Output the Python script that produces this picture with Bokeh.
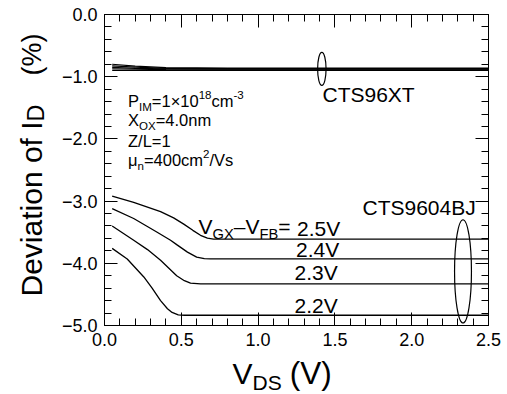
import math
from bokeh.plotting import figure
from bokeh.models import Range1d, LinearAxis, SingleIntervalTicker, Label
from bokeh.embed import file_html
from bokeh.resources import INLINE

# ---------------- data ----------------
x_ticks = [0.0, 0.5, 1.0, 1.5, 2.0, 2.5]
x_tick_labels = ["0.0", "0.5", "1.0", "1.5", "2.0", "2.5"]
y_ticks = [0, -1, -2, -3, -4, -5]
y_tick_labels = ["0.0", "\u22121.0", "\u22122.0", "\u22123.0", "\u22124.0", "\u22125.0"]

# CTS96XT (nearly flat bundle of curves)
xt = [0.05, 0.2, 0.4, 0.8, 1.5, 2.5]
xt_1 = [-0.80, -0.83, -0.855, -0.86, -0.86, -0.86]
xt_2 = [-0.825, -0.845, -0.865, -0.87, -0.87, -0.87]
xt_3 = [-0.85, -0.865, -0.875, -0.88, -0.88, -0.88]
xt_4 = [-0.875, -0.88, -0.885, -0.89, -0.89, -0.89]
xt_5 = [-0.90, -0.90, -0.90, -0.90, -0.90, -0.90]

# CTS9604BJ curves, V_GX - V_FB = 2.5, 2.4, 2.3, 2.2 V
bj25_x = [0.05, 0.19, 0.365, 0.45, 0.516, 0.575, 0.625, 0.67, 0.71, 2.5]
bj25_y = [-2.92, -3.02, -3.17, -3.27, -3.37, -3.47, -3.55, -3.595, -3.61, -3.61]
bj24_x = [0.05, 0.19, 0.343, 0.43, 0.47, 0.54, 0.60, 0.65, 0.69, 2.5]
bj24_y = [-3.12, -3.28, -3.50, -3.63, -3.70, -3.82, -3.90, -3.925, -3.93, -3.93]
bj23_x = [0.05, 0.19, 0.28, 0.365, 0.47, 0.52, 0.56, 0.625, 2.5]
bj23_y = [-3.40, -3.63, -3.78, -3.95, -4.20, -4.28, -4.32, -4.33, -4.33]
bj22_x = [0.05, 0.148, 0.256, 0.31, 0.365, 0.41, 0.44, 0.48, 0.52, 2.5]
bj22_y = [-3.76, -3.93, -4.22, -4.40, -4.60, -4.73, -4.79, -4.83, -4.835, -4.835]

# marker ellipses (center x, center y, width, height) in data units
ell_xt = (1.415, -0.875, 0.055, 0.53)
ell_bj = (2.334, -4.13, 0.11, 1.66)

FONT = "Liberation Sans"

# Arial / Liberation Sans advance widths (per 1000 em)
W = {' ': 278, '(': 333, ')': 333, '%': 889, '-': 333, '.': 278, '/': 278, '=': 584,
     '\u00d7': 584, '\u2013': 556, '\u2212': 584, '\u03bc': 577,
     'B': 667, 'C': 722, 'D': 722, 'F': 611, 'G': 778, 'I': 278, 'J': 500, 'L': 556,
     'M': 833, 'O': 778, 'P': 667, 'S': 667, 'T': 611, 'V': 667, 'X': 667, 'Z': 611,
     'a': 556, 'c': 500, 'e': 556, 'f': 278, 'i': 222, 'm': 833, 'n': 556, 'o': 556,
     's': 500, 't': 278, 'v': 500}

# Labels are drawn centred on their anchor; this moves the anchor so the baseline lands on it
BASE_FIX = 0.3465


def tw(s, size):
    return sum(W.get(c, 556) for c in s) / 1000.0 * size


# page geometry: the visible box [0, 2.5] x [-5, 0] spans pixels 104..488 and 14..325
CW, CH = 507, 394
BX0, BX1, BY0, BY1 = 104, 488, 14, 325
XS = (BX1 - BX0) / 2.5
YS = (BY1 - BY0) / 5.0


def px2x(px):
    return (px - BX0) / XS


def py2y(py):
    return -(py - BY0) / YS


def rich(p, x, y, segs, size, angle=0.0, sub_scale=0.7, sub_shift=0.25, sup_shift=0.45):
    adv = 0.0
    for seg in segs:
        txt, kind = seg[0], seg[1]
        if kind == "gap":
            adv += seg[2]
            continue
        scale = seg[2] if len(seg) > 2 else 1.0
        if kind == "n":
            fs, dv = size * scale, 0.0
        elif kind == "sub":
            fs, dv = size * sub_scale, -sub_shift * size
        else:
            fs, dv = size * sub_scale, sup_shift * size
        lead = len(txt) - len(txt.lstrip(" "))
        adv += tw(" " * lead, fs)
        body = txt.lstrip(" ")
        dv += BASE_FIX * fs
        if angle == 0:
            xo, yo = adv, dv
        else:
            xo, yo = -dv, adv
        p.add_layout(Label(x=x, y=y, x_offset=xo, y_offset=yo, text=body,
                           text_font=FONT, text_font_size=f"{fs:.2f}px",
                           text_color="black", angle=angle,
                           text_align="left", text_baseline="alphabetic"))
        adv += tw(body, fs)


p = figure(width=CW, height=CH, output_backend="svg", toolbar_location=None,
           x_range=Range1d(px2x(0), px2x(CW)), y_range=Range1d(py2y(CH), py2y(0)),
           x_axis_location=None, y_axis_location=None,
           min_border_left=0, min_border_right=0, min_border_top=0, min_border_bottom=0)
p.grid.visible = False
p.outline_line_color = None
p.background_fill_color = "white"
p.border_fill_color = "white"

xtk = SingleIntervalTicker(interval=0.5, num_minor_ticks=5)
ytk = SingleIntervalTicker(interval=1.0, num_minor_ticks=5)


def make_axis(ticker, loc, bounds, labels=None):
    ax = LinearAxis(ticker=ticker, fixed_location=loc, bounds=bounds)
    ax.major_tick_in = 13
    ax.major_tick_out = 0
    ax.minor_tick_in = 7
    ax.minor_tick_out = 0
    ax.axis_line_color = "black"
    ax.axis_line_width = 1
    ax.major_tick_line_color = "black"
    ax.minor_tick_line_color = "black"
    ax.major_label_text_font = FONT
    ax.major_label_text_font_size = "18px"
    ax.major_label_standoff = 7
    if labels is None:
        ax.major_label_text_color = None
    else:
        ax.major_label_text_color = "black"
        ax.major_label_overrides = labels
    return ax


xb = (x_ticks[0], x_ticks[-1])
yb = (y_ticks[-1], y_ticks[0])
p.add_layout(make_axis(xtk, y_ticks[-1], xb,
                       {float(t): l for t, l in zip(x_ticks, x_tick_labels)}), "below")
p.add_layout(make_axis(ytk, x_ticks[0], yb,
                       {float(t): l for t, l in zip(y_ticks, y_tick_labels)}), "left")
p.add_layout(make_axis(xtk, y_ticks[0], xb), "above")
p.add_layout(make_axis(ytk, x_ticks[-1], yb), "right")

# CTS96XT bundle
for ys in (xt_1, xt_2, xt_3, xt_4, xt_5):
    p.line(xt, ys, line_color="black", line_width=1.2)

# CTS9604BJ curves
for xs, ys in ((bj25_x, bj25_y), (bj24_x, bj24_y), (bj23_x, bj23_y), (bj22_x, bj22_y)):
    p.line(xs, ys, line_color="black", line_width=1.3)

for cx, cy, w, h in (ell_xt, ell_bj):
    p.ellipse(x=[cx], y=[cy], width=[w], height=[h], fill_color=None,
              line_color="black", line_width=1.2)

# ------------- annotations -------------
LS = 21
rich(p, px2x(322), py2y(101.5), [("CTS96XT", "n")], LS)
rich(p, px2x(362), py2y(214.5), [("CTS9604BJ", "n")], LS)
rich(p, px2x(198), py2y(233.5), [("V", "n"), ("GX", "sub"), ("\u2013V", "n"), ("FB", "sub"), ("=", "n")], LS)
rich(p, px2x(296.5), py2y(235), [("2.5V", "n")], LS)
rich(p, px2x(295.5), py2y(256), [("2.4V", "n")], LS)
rich(p, px2x(294), py2y(279.3), [("2.3V", "n")], LS)
rich(p, px2x(294), py2y(312.5), [("2.2V", "n")], LS)

PS = 16.5
rich(p, px2x(127.5), py2y(106), [("P", "n"), ("IM", "sub"), ("=1\u00d710", "n"), ("18", "sup"),
                                 ("cm", "n"), ("-3", "sup")], PS)
rich(p, px2x(127.5), py2y(125), [("X", "n"), ("OX", "sub"), ("=4.0nm", "n")], PS)
rich(p, px2x(127.5), py2y(146), [("Z/L=1", "n")], PS)
rich(p, px2x(127.5), py2y(165), [("\u03bc", "n"), ("n", "sub"), ("=400cm", "n"), ("2", "sup"),
                                 ("/Vs", "n")], PS)

# axis titles
rich(p, px2x(232), py2y(383), [("V", "n"), ("DS", "sub"), ("", "gap", 8), ("(V)", "n", 1.05)], 30,
     sub_shift=0.22)
rich(p, px2x(41), py2y(296), [("Deviation of I", "n"), ("D", "sub"), ("", "gap", 29), ("(%)", "n", 0.9)],
     30, angle=math.pi / 2, sub_scale=0.78, sub_shift=0.08)

open("out.html", "w").write(file_html(p, INLINE))
